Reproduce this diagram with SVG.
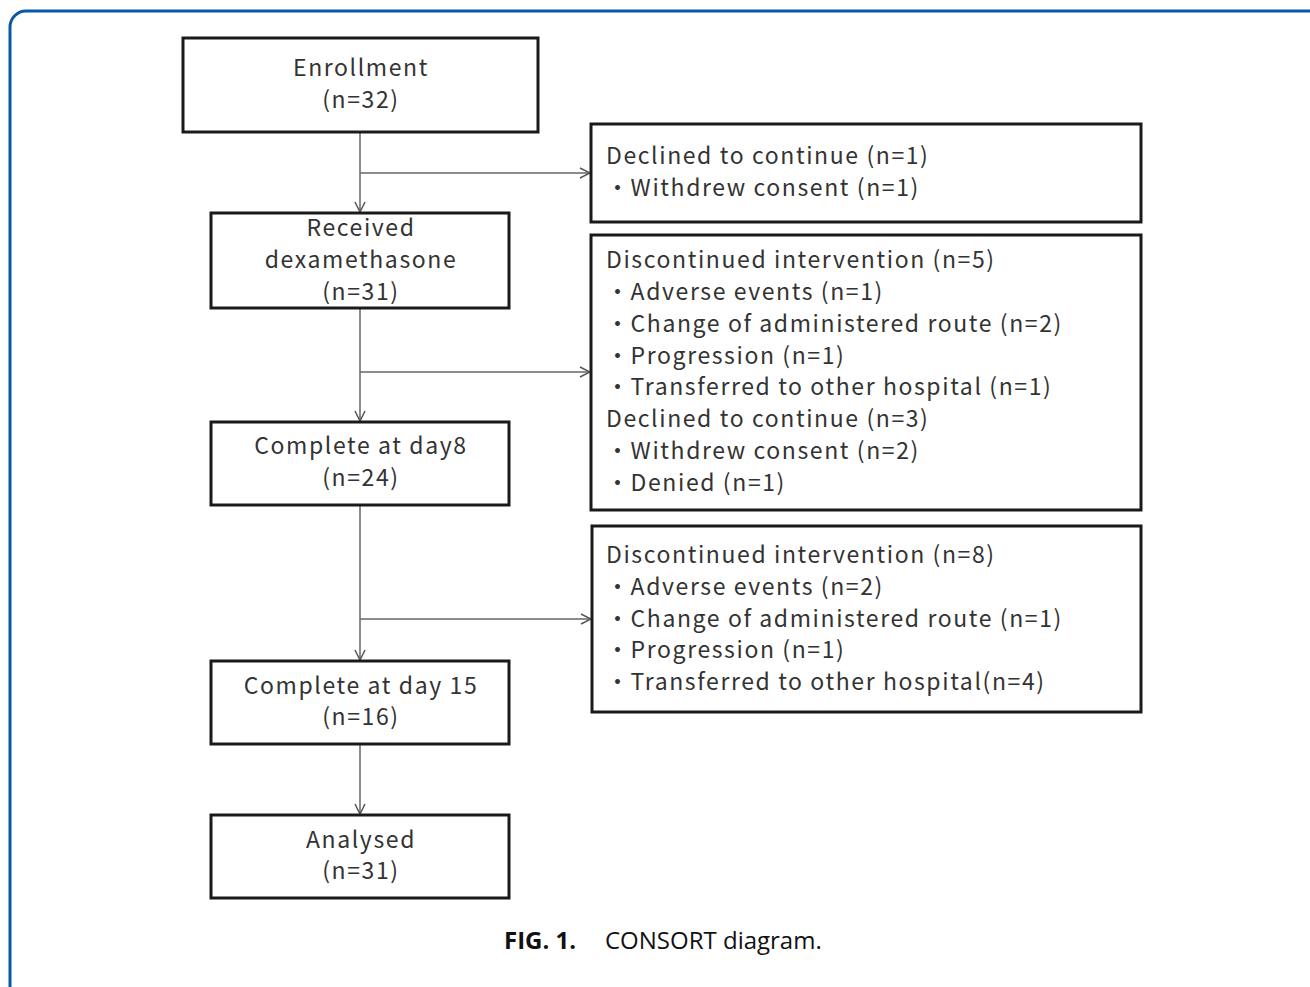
<svg xmlns="http://www.w3.org/2000/svg" width="1310" height="987" viewBox="0 0 1310 987">
<defs>
<marker id="arr" viewBox="0 0 12 12" refX="11" refY="6" markerWidth="12" markerHeight="12" markerUnits="userSpaceOnUse" orient="auto">
<path d="M1,1 L11,6 L1,11" fill="none" stroke="#555" stroke-width="1.5"/>
</marker>
<style>
.box{fill:#fff;stroke:#1a1a1a;stroke-width:3}
.t{font-family:"Noto Sans CJK JP","Noto Sans",sans-serif;font-size:23px;letter-spacing:1.6px;fill:#333}
.c{text-anchor:middle}
.ln{stroke:#666;stroke-width:1.5;fill:none}
.cap{font-family:"Open Sans","Noto Sans",sans-serif;font-size:24px;fill:#111}
</style>
</defs>
<rect width="1310" height="987" fill="#fff"/>
<rect x="10" y="11" width="1330" height="1000" rx="16" fill="none" stroke="#0a58a8" stroke-width="3"/>
<g id="connectors">
<line class="ln" x1="360" y1="132" x2="360" y2="212" marker-end="url(#arr)"/>
<line class="ln" x1="360" y1="173" x2="590" y2="173" marker-end="url(#arr)"/>
<line class="ln" x1="360" y1="308" x2="360" y2="421" marker-end="url(#arr)"/>
<line class="ln" x1="360" y1="372" x2="590" y2="372" marker-end="url(#arr)"/>
<line class="ln" x1="360" y1="505" x2="360" y2="660" marker-end="url(#arr)"/>
<line class="ln" x1="360" y1="619" x2="591" y2="619" marker-end="url(#arr)"/>
<line class="ln" x1="360" y1="744" x2="360" y2="814" marker-end="url(#arr)"/>
</g>
<g id="enrollment">
<rect class="box" x="183" y="38" width="355" height="94"/>
<text class="t c" x="361" y="76">Enrollment</text>
<text class="t c" x="361" y="108">(n=32)</text>
</g>
<g id="received">
<rect class="box" x="211" y="213" width="298" height="95"/>
<text class="t c" x="361" y="236">Received</text>
<text class="t c" x="361" y="268">dexamethasone</text>
<text class="t c" x="361" y="300">(n=31)</text>
</g>
<g id="day8">
<rect class="box" x="211" y="422" width="298" height="83"/>
<text class="t c" x="361" y="454">Complete at day8</text>
<text class="t c" x="361" y="486">(n=24)</text>
</g>
<g id="day15">
<rect class="box" x="211" y="661" width="298" height="83"/>
<text class="t c" x="361" y="694">Complete at day 15</text>
<text class="t c" x="361" y="725">(n=16)</text>
</g>
<g id="analysed">
<rect class="box" x="211" y="815" width="298" height="83"/>
<text class="t c" x="361" y="848">Analysed</text>
<text class="t c" x="361" y="879">(n=31)</text>
</g>
<g id="excl1">
<rect class="box" x="591" y="124" width="550" height="98"/>
<text class="t" x="606" y="164">Declined to continue (n=1)</text>
<text class="t" x="606" y="196">・Withdrew consent (n=1)</text>
</g>
<g id="excl2">
<rect class="box" x="591" y="235" width="550" height="275"/>
<text class="t" x="606" y="268">Discontinued intervention (n=5)</text>
<text class="t" x="606" y="300">・Adverse events (n=1)</text>
<text class="t" x="606" y="332">・Change of administered route (n=2)</text>
<text class="t" x="606" y="364">・Progression (n=1)</text>
<text class="t" x="606" y="395">・Transferred to other hospital (n=1)</text>
<text class="t" x="606" y="427">Declined to continue (n=3)</text>
<text class="t" x="606" y="459">・Withdrew consent (n=2)</text>
<text class="t" x="606" y="491">・Denied (n=1)</text>
</g>
<g id="excl3">
<rect class="box" x="592" y="526" width="549" height="186"/>
<text class="t" x="606" y="563">Discontinued intervention (n=8)</text>
<text class="t" x="606" y="595">・Adverse events (n=2)</text>
<text class="t" x="606" y="627">・Change of administered route (n=1)</text>
<text class="t" x="606" y="658">・Progression (n=1)</text>
<text class="t" x="606" y="690">・Transferred to other hospital(n=4)</text>
</g>
<g id="caption">
<text class="cap" x="504" y="949"><tspan font-weight="bold">FIG. 1.</tspan><tspan x="605">CONSORT diagram.</tspan></text>
</g>
</svg>
